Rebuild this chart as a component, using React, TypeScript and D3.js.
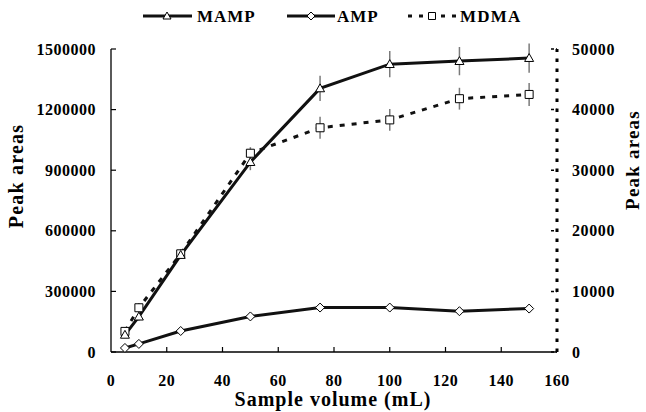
import React from "react";
import * as d3 from "d3";

const volumes = [5, 10, 25, 50, 75, 100, 125, 150];
const mampValues = [85000, 175000, 480000, 940000, 1305000, 1425000, 1440000, 1455000];
const mampErrors = [15000, 20000, 20000, 40000, 62000, 65000, 70000, 72000];
const ampValues = [20000, 40000, 104000, 176000, 220000, 220000, 202000, 215000];
const ampErrors = [5000, 5000, 8000, 10000, 12000, 12000, 12000, 22000];
const mdmaValues = [3400, 7300, 16200, 32800, 37000, 38300, 41800, 42500];
const mdmaErrors = [700, 800, 800, 1000, 1800, 1800, 1800, 1900];

const xTicks = [0, 20, 40, 60, 80, 100, 120, 140, 160];
const yLeftTicks = [0, 300000, 600000, 900000, 1200000, 1500000];
const yRightTicks = [0, 10000, 20000, 30000, 40000, 50000];

const FONT = "'Liberation Serif', 'Times New Roman', serif";

export default function App() {
  const W = 646, H = 412;
  const x = d3.scaleLinear().domain([0, 160]).range([111, 557]);
  const yL = d3.scaleLinear().domain([0, 1500000]).range([352, 49]);
  const yR = d3.scaleLinear().domain([0, 50000]).range([352, 49]);

  const lineL = d3.line<number>().x((_, i) => x(volumes[i])).y((d) => yL(d));
  const lineR = d3.line<number>().x((_, i) => x(volumes[i])).y((d) => yR(d));

  const tri = (cx: number, cy: number, s = 4.5) =>
    `M${cx},${cy - s} L${cx + s},${cy + s * 0.75} L${cx - s},${cy + s * 0.75} Z`;
  const dia = (cx: number, cy: number, s = 4.5) =>
    `M${cx},${cy - s} L${cx + s},${cy} L${cx},${cy + s} L${cx - s},${cy} Z`;
  const sq = (cx: number, cy: number, s = 4) =>
    `M${cx - s},${cy - s} h${2 * s} v${2 * s} h${-2 * s} Z`;

  const errColor = "#7a7a7a";

  return (
    <svg width={W} height={H} style={{ position: "absolute", left: 0, top: 0, background: "#fff" }}
      fontFamily={FONT}>
      <rect x={0} y={0} width={W} height={H} fill="#fff" />
      {/* axes */}
      <line x1={x(0)} x2={x(0)} y1={yL(0)} y2={yL(1500000)} stroke="#000" strokeWidth={1.3} />
      <line x1={x(0)} x2={x(160)} y1={yL(0)} y2={yL(0)} stroke="#000" strokeWidth={1.3} />
      <line x1={x(160)} x2={x(160)} y1={yR(0)} y2={yR(50000)} stroke="#000" strokeWidth={3}
        strokeDasharray="3.5,6.5" />
      {yLeftTicks.map((t) => (
        <g key={"yl" + t}>
          <line x1={x(0)} x2={x(0) + 5} y1={yL(t)} y2={yL(t)} stroke="#000" strokeWidth={1.2} />
          <text x={96} y={yL(t)} dy="0.35em" textAnchor="end" fontSize={16} fontWeight="bold"
            letterSpacing={0.5}>{t}</text>
        </g>
      ))}
      {yRightTicks.map((t) => (
        <g key={"yr" + t}>
          <line x1={x(160) - 6} x2={x(160)} y1={yR(t)} y2={yR(t)} stroke="#000" strokeWidth={1.5}
            strokeDasharray="3,2" />
          <text x={572} y={yR(t)} dy="0.35em" textAnchor="start" fontSize={16} fontWeight="bold"
            letterSpacing={0.6}>{t}</text>
        </g>
      ))}
      {xTicks.map((t) => (
        <g key={"x" + t}>
          {t > 0 && t < 160 && (
            <line x1={x(t)} x2={x(t)} y1={yL(0)} y2={yL(0) - 5} stroke="#000" strokeWidth={1.2} />
          )}
          <text x={x(t)} y={386} textAnchor="middle" fontSize={16} fontWeight="bold"
            letterSpacing={0.5}>{t}</text>
        </g>
      ))}
      {/* titles */}
      <text x={333} y={406} textAnchor="middle" fontSize={20} fontWeight="bold" letterSpacing={1}>
        Sample volume (mL)
      </text>
      <text transform={`translate(23,176) rotate(-90)`} textAnchor="middle" fontSize={20}
        fontWeight="bold" letterSpacing={1.2}>Peak areas</text>
      <text transform={`translate(639,160) rotate(-90)`} textAnchor="middle" fontSize={19}
        fontWeight="bold" letterSpacing={1.2}>Peak areas</text>

      {/* lines */}
      <path d={lineL(ampValues) || ""} fill="none" stroke="#111" strokeWidth={3} />
      <path d={lineL(mampValues) || ""} fill="none" stroke="#111" strokeWidth={3} />
      <path d={lineR(mdmaValues) || ""} fill="none" stroke="#111" strokeWidth={3}
        strokeDasharray="5,7" />

      {/* error bars */}
      {volumes.map((v, i) => (
        <g key={"e" + v}>
          <line x1={x(v)} x2={x(v)} y1={yL(mampValues[i] - mampErrors[i])}
            y2={yL(mampValues[i] + mampErrors[i])} stroke={errColor} strokeWidth={1.5} />
          <line x1={x(v)} x2={x(v)} y1={yL(ampValues[i] - ampErrors[i])}
            y2={yL(ampValues[i] + ampErrors[i])} stroke={errColor} strokeWidth={1.5} />
          <line x1={x(v)} x2={x(v)} y1={yR(mdmaValues[i] - mdmaErrors[i])}
            y2={yR(mdmaValues[i] + mdmaErrors[i])} stroke={errColor} strokeWidth={1.5} />
        </g>
      ))}

      {/* markers */}
      {volumes.map((v, i) => (
        <g key={"m" + v}>
          <path d={sq(x(v), yR(mdmaValues[i]))} fill="#fff" stroke="#000" strokeWidth={1} />
          <path d={tri(x(v), yL(mampValues[i]))} fill="#fff" stroke="#000" strokeWidth={1} />
          <path d={dia(x(v), yL(ampValues[i]))} fill="#fff" stroke="#000" strokeWidth={1} />
        </g>
      ))}

      {/* legend */}
      <g>
        <line x1={143} x2={192} y1={16} y2={16} stroke="#111" strokeWidth={3} />
        <path d={tri(167, 16, 4)} fill="#fff" stroke="#000" strokeWidth={1} />
        <text x={197} y={22} fontSize={17} fontWeight="bold" letterSpacing={1}>MAMP</text>

        <line x1={287} x2={335} y1={16} y2={16} stroke="#111" strokeWidth={3} />
        <path d={dia(311, 16, 4)} fill="#fff" stroke="#000" strokeWidth={1} />
        <text x={337} y={22} fontSize={17} fontWeight="bold" letterSpacing={1}>AMP</text>

        <line x1={408} x2={456} y1={16} y2={16} stroke="#111" strokeWidth={3}
          strokeDasharray="4,7" />
        <path d={sq(432, 16, 3.5)} fill="#fff" stroke="#000" strokeWidth={1} />
        <text x={460} y={22} fontSize={17} fontWeight="bold" letterSpacing={1.2}>MDMA</text>
      </g>
    </svg>
  );
}
